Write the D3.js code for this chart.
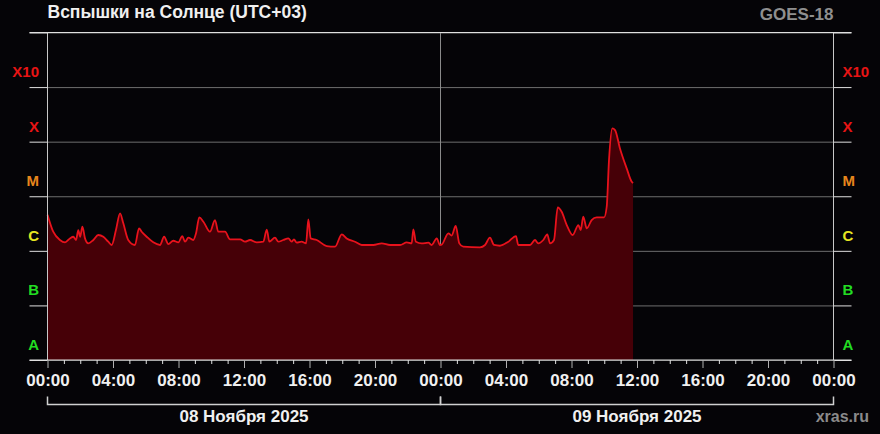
<!DOCTYPE html>
<html>
<head>
<meta charset="utf-8">
<script src="https://cdn.jsdelivr.net/npm/d3@7"></script>
<style>
  body { margin: 0; background: #050407; }
  svg { display: block; }
  text { font-family: "Liberation Sans", Arial, sans-serif; font-weight: bold; }
</style>
</head>
<body>
<div id="chart"></div>
<script>
var width = 880, height = 434;
var margin = {left: 47.5, right: 46.5, top: 32.5, bottom: 74};

// hours since 08 Nov 00:00 (UTC+03) and X-ray flux, W/m2
var hours = [0, 0.35, 0.76, 1.07, 1.37, 1.58, 1.74, 1.88, 1.99, 2.13, 2.29, 2.49, 2.80, 3.10, 3.41, 3.71, 3.92,
  4.18, 4.43, 4.63, 4.93, 5.34, 5.59, 5.75, 6.06, 6.46, 6.87, 7.12, 7.38, 7.68, 7.99, 8.23, 8.40, 8.60, 8.90,
  9.07, 9.27, 9.52, 9.92, 10.23, 10.43, 10.84, 11.15, 11.76, 12.06, 12.37, 12.78, 13.18, 13.39, 13.55, 13.89,
  14.10, 14.40, 14.71, 14.91, 15.05, 15.22, 15.52, 15.79, 15.93, 16.07, 16.44, 17.05, 17.56, 17.97, 18.27,
  18.78, 19.19, 19.90, 20.41, 20.92, 21.53, 21.94, 22.24, 22.34, 22.50, 22.85, 23.26, 23.46, 23.77, 23.97,
  24.07, 24.48, 24.68, 24.93, 25.15, 25.39, 26.41, 26.72, 27.02, 27.27, 27.63, 28.14, 28.61, 28.75, 29.47,
  29.77, 29.97, 30.28, 30.52, 30.69, 30.93, 31.16, 31.40, 31.71, 32.07, 32.42, 32.56, 32.72, 32.93, 33.23,
  33.54, 33.99, 34.15, 34.29, 34.49, 34.66, 34.96, 35.37, 35.68, 35.76];
var flux = [4.6e-6, 2.24e-6, 1.58e-6, 1.43e-6, 1.69e-6, 1.81e-6, 1.58e-6, 2.4e-6, 1.81e-6, 2.76e-6, 1.69e-6,
  1.37e-6, 1.58e-6, 1.95e-6, 1.81e-6, 1.47e-6, 1.28e-6, 2.4e-6, 4.86e-6, 3.19e-6, 1.58e-6, 1.28e-6, 2.58e-6,
  2.24e-6, 1.81e-6, 1.43e-6, 1.28e-6, 1.81e-6, 1.33e-6, 1.53e-6, 1.43e-6, 1.86e-6, 1.47e-6, 1.74e-6, 1.58e-6,
  2.09e-6, 4.11e-6, 3.41e-6, 2.24e-6, 3.66e-6, 2.24e-6, 2.24e-6, 1.62e-6, 1.62e-6, 1.47e-6, 1.58e-6, 1.43e-6,
  1.47e-6, 2.45e-6, 1.47e-6, 1.74e-6, 1.47e-6, 1.58e-6, 1.69e-6, 1.47e-6, 1.62e-6, 1.41e-6, 1.47e-6, 1.37e-6,
  3.78e-6, 1.69e-6, 1.58e-6, 1.22e-6, 1.19e-6, 2.0e-6, 1.69e-6, 1.47e-6, 1.28e-6, 1.28e-6, 1.37e-6, 1.28e-6,
  1.28e-6, 1.43e-6, 1.37e-6, 2.48e-6, 1.47e-6, 1.37e-6, 1.41e-6, 1.28e-6, 1.69e-6, 1.28e-6, 1.3e-6, 2.09e-6,
  1.9e-6, 2.85e-6, 1.37e-6, 1.19e-6, 1.16e-6, 1.28e-6, 1.74e-6, 1.28e-6, 1.24e-6, 1.47e-6, 1.86e-6, 1.28e-6,
  1.28e-6, 1.58e-6, 1.37e-6, 1.58e-6, 2.0e-6, 1.37e-6, 1.58e-6, 6.26e-6, 5.2e-6, 2.97e-6, 1.95e-6, 2.97e-6,
  2.4e-6, 4.22e-6, 2.58e-6, 3.66e-6, 4.11e-6, 4.11e-6, 6.42e-6, 4.6e-5, 1.75e-4, 1.63e-4, 7.5e-5, 3.24e-5,
  1.84e-5, 1.75e-5];

var classes = ["A", "B", "C", "M", "X", "X10"];
var classColors = ["#22dd22", "#22dd22", "#e6e622", "#e8871c", "#e81414", "#e81414"];
var decades = [1e-8, 1e-7, 1e-6, 1e-5, 1e-4, 1e-3, 1e-2];
var days = ["08 Ноября 2025", "09 Ноября 2025"];

var start = Date.UTC(2025, 10, 8);
var data = hours.map(function (h, i) { return {t: new Date(start + h * 3600e3), v: flux[i]}; });

var svg = d3.select("#chart").append("svg")
  .attr("width", width)
  .attr("height", height);

var x = d3.scaleUtc()
  .domain([new Date(start), new Date(start + 48 * 3600e3)])
  .range([margin.left, width - margin.right]);
var y = d3.scaleLog()
  .domain([1e-8, 1e-2])
  .range([height - margin.bottom, margin.top]);

// grid inside
svg.append("g")
  .attr("transform", "translate(" + margin.left + ",0)")
  .call(d3.axisRight(y).tickValues(decades).tickSize(x.range()[1] - x.range()[0]).tickFormat(""))
  .call(function (g) { g.select(".domain").remove(); })
  .selectAll("line").attr("stroke", "#6e6e6e");

// mid day line
svg.append("line")
  .attr("x1", x(new Date(start + 24 * 3600e3))).attr("x2", x(new Date(start + 24 * 3600e3)))
  .attr("y1", margin.top).attr("y2", y(1e-8))
  .attr("stroke", "#8a8a8a");

var area = d3.area()
  .curve(d3.curveMonotoneX)
  .x(function (d) { return x(d.t); })
  .y0(y(1e-8))
  .y1(function (d) { return y(d.v); });
var line = d3.line()
  .curve(d3.curveMonotoneX)
  .x(function (d) { return x(d.t); })
  .y(function (d) { return y(d.v); });

svg.append("path").datum(data).attr("d", area).attr("fill", "#460007");
svg.append("path").datum(data).attr("d", line)
  .attr("fill", "none").attr("stroke", "#e8121c").attr("stroke-width", 1.8);

// frame
svg.append("line").attr("x1", margin.left).attr("x2", margin.left)
  .attr("y1", margin.top).attr("y2", y(1e-8)).attr("stroke", "#c8c8c8");
svg.append("line").attr("x1", x.range()[1]).attr("x2", x.range()[1])
  .attr("y1", margin.top).attr("y2", y(1e-8)).attr("stroke", "#c8c8c8");
svg.append("line").attr("x1", margin.left - 18).attr("x2", x.range()[1] + 18)
  .attr("y1", margin.top).attr("y2", margin.top).attr("stroke", "#e0e0e0");
svg.append("line").attr("x1", margin.left - 18).attr("x2", x.range()[1] + 18)
  .attr("y1", y(1e-8)).attr("y2", y(1e-8)).attr("stroke", "#e0e0e0");

// outer ticks left and right
svg.append("g")
  .attr("transform", "translate(" + margin.left + ",0)")
  .call(d3.axisLeft(y).tickValues(decades).tickSize(18).tickFormat(""))
  .call(function (g) { g.select(".domain").remove(); })
  .selectAll("line").attr("stroke", "#e0e0e0");
svg.append("g")
  .attr("transform", "translate(" + x.range()[1] + ",0)")
  .call(d3.axisRight(y).tickValues(decades).tickSize(18).tickFormat(""))
  .call(function (g) { g.select(".domain").remove(); })
  .selectAll("line").attr("stroke", "#e0e0e0");

// class labels
classes.forEach(function (c, i) {
  var yy = y(decades[i]) - 10;
  svg.append("text").attr("x", 39).attr("y", yy).attr("text-anchor", "end")
    .attr("font-size", 15).attr("fill", classColors[i]).text(c);
  svg.append("text").attr("x", x.range()[1] + 9).attr("y", yy)
    .attr("font-size", 15).attr("fill", classColors[i]).text(c);
});

// time axis
var fmt = d3.utcFormat("%H:%M");
var xAxis = svg.append("g")
  .attr("transform", "translate(0," + y(1e-8) + ")")
  .call(d3.axisBottom(x).ticks(d3.utcHour.every(1)).tickSize(4)
    .tickFormat(function (d) { return d.getUTCHours() % 4 == 0 ? fmt(d) : ""; }));
xAxis.select(".domain").remove();
xAxis.selectAll(".tick line").attr("stroke", "#e0e0e0");
xAxis.selectAll(".tick").filter(function (d) { return d.getUTCHours() % 4 == 0; })
  .select("line").attr("y2", 8).attr("stroke", "#b0b0b0");
xAxis.selectAll(".tick text")
  .attr("y", 14).attr("fill", "#f0f0f0")
  .style("font-size", "17px").style("font-family", "Liberation Sans, Arial, sans-serif").style("font-weight", "bold");

// day brackets
days.forEach(function (d, i) {
  var x0 = x(new Date(start + i * 24 * 3600e3)), x1 = x(new Date(start + (i + 1) * 24 * 3600e3));
  svg.append("path")
    .attr("d", "M" + x0 + ",396.5V404.5H" + x1 + "V396.5")
    .attr("fill", "none").attr("stroke", "#d0d0d0").attr("stroke-width", 1.5);
  svg.append("text").attr("x", (x0 + x1) / 2).attr("y", 422).attr("text-anchor", "middle")
    .attr("font-size", 17).attr("fill", "#f0f0f0").text(d);
});

svg.append("text").attr("x", margin.left).attr("y", 18)
  .attr("font-size", 17.5).attr("fill", "#f0f0f0").text("Вспышки на Солнце (UTC+03)");
svg.append("text").attr("x", x.range()[1]).attr("y", 20).attr("text-anchor", "end")
  .attr("font-size", 17).attr("fill", "#8f8f8f").text("GOES-18");
svg.append("text").attr("x", 869).attr("y", 422).attr("text-anchor", "end")
  .attr("font-size", 16).attr("fill", "#8a8a8a").text("xras.ru");
</script>
</body>
</html>
